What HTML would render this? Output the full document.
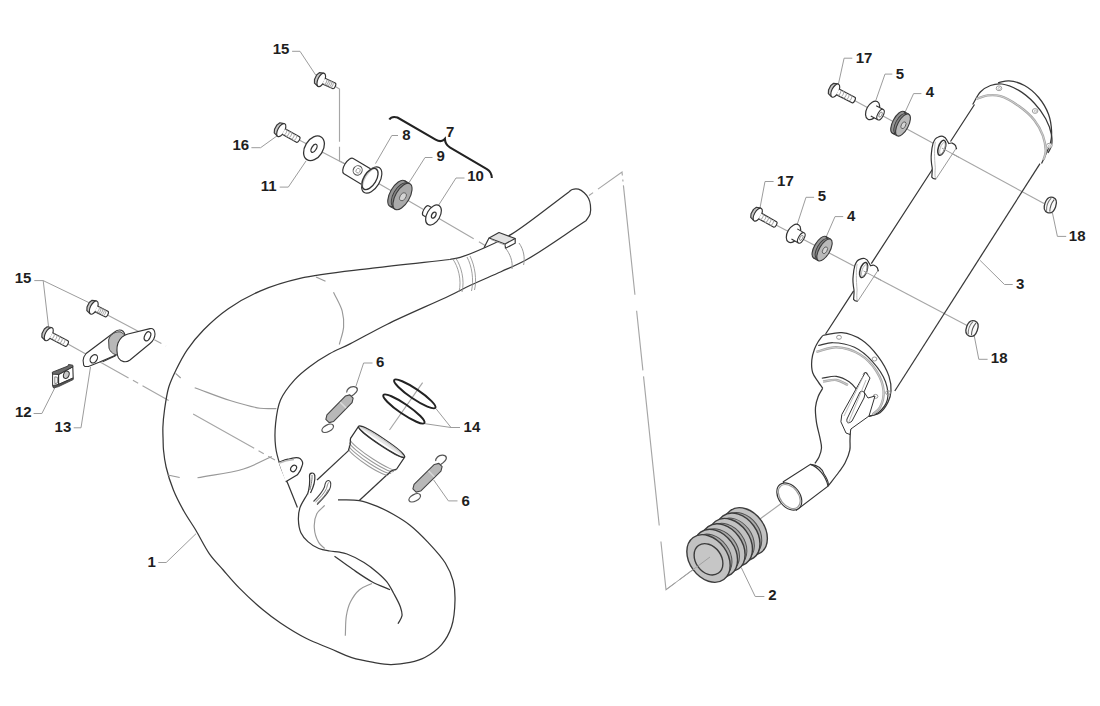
<!DOCTYPE html><html><head><meta charset="utf-8"><style>
*{margin:0;padding:0}
html,body{width:1100px;height:706px;overflow:hidden;background:#fff}
svg{display:block}
text{font-family:"Liberation Sans",sans-serif;font-weight:bold;font-size:15px;fill:#1e1e1e}
.pl{fill:none;stroke:#383838;stroke-width:1.25}
.ln{fill:none;stroke:#383838;stroke-width:1.15}
.ld{fill:none;stroke:#9c9c9c;stroke-width:1}
.cl{fill:none;stroke:#a6a6a6;stroke-width:1.15}
.pt{fill:#fff;stroke:#333;stroke-width:1.1}
.th{fill:none;stroke:#aaa;stroke-width:0.8}
.gl{fill:none;stroke:#999;stroke-width:1.15}
.gl2{fill:none;stroke:#a5a5a5;stroke-width:2.4}
.gl2b{fill:none;stroke:#e0e0e0;stroke-width:0.7}
.cl2{fill:none;stroke:#a0a0a0;stroke-width:1}
.gr{stroke:#3a3a3a;stroke-width:1.1}
</style></head><body><svg width="1100" height="706" viewBox="0 0 1100 706">
<rect width="1100" height="706" fill="#fff"/>
<polyline class="cl" points="335.0,86.3 339.5,89.0 339.5,161.0 345.5,164.0" style="stroke-dasharray:58 5"/>
<polyline class="cl" points="299.7,140.3 345.0,164.0 433.0,215.0 486.0,246.0" style="stroke-dasharray:200 6 40 6"/>
<polyline class="cl" points="107.5,315.0 166.0,346.0" style="stroke-dasharray:48 5 8 5"/>
<polyline class="cl" points="67.5,343.7 275.0,460.0" style="stroke-dasharray:70 5 6 5 30 28"/>
<polyline class="cl" points="589.0,195.5 622.0,172.0 666.0,589.7 710.0,557.0" style="stroke-dasharray:5 6 33 4 2 4 110 16 60 6 150 16 60 5 400"/>
<polyline class="cl" points="760.0,519.0 788.7,498.0" style="stroke-dasharray:none"/>
<polyline class="cl" points="389.5,430.0 422.6,382.7" style="stroke-dasharray:none"/>
<polyline class="cl" points="854.5,100.5 1044.0,203.6" style="stroke-dasharray:none"/>
<polyline class="cl" points="776.0,225.0 971.8,328.0" style="stroke-dasharray:none"/>
<polyline class="ld" points="292.1,51.3 300.0,51.3 315.7,75.0"/>
<polyline class="ld" points="251.4,147.7 260.6,147.7 277.0,135.9"/>
<polyline class="ld" points="279.7,187.1 288.3,187.1 306.0,161.0"/>
<polyline class="ld" points="398.0,135.5 391.8,135.5 375.5,163.6"/>
<polyline class="ld" points="432.5,157.5 425.0,157.5 407.5,185.0"/>
<polyline class="ld" points="464.5,178.0 456.0,178.0 438.7,205.0"/>
<polyline class="ld" points="34.3,280.6 43.2,280.6 88.7,302.5"/>
<polyline class="ld" points="43.2,280.6 48.7,328.0"/>
<polyline class="ld" points="33.6,413.5 41.9,413.5 55.0,387.5"/>
<polyline class="ld" points="73.7,427.8 81.0,427.8 90.5,367.0"/>
<polyline class="ld" points="158.3,562.5 166.2,562.5 196.0,533.7"/>
<polyline class="ld" points="372.5,363.0 363.6,363.0 356.0,386.0"/>
<polyline class="ld" points="457.5,500.9 448.4,500.9 433.7,480.0"/>
<polyline class="ld" points="460.0,427.5 451.0,427.5 436.0,408.7"/>
<polyline class="ld" points="451.0,427.5 425.0,423.7"/>
<polyline class="ld" points="852.3,58.2 844.1,58.2 838.0,86.0"/>
<polyline class="ld" points="892.3,74.1 885.0,74.1 875.8,100.5"/>
<polyline class="ld" points="921.4,93.6 913.6,93.6 904.0,114.5"/>
<polyline class="ld" points="1066.2,236.4 1057.4,236.4 1052.4,212.7"/>
<polyline class="ld" points="773.6,181.5 765.0,181.5 759.6,210.0"/>
<polyline class="ld" points="814.1,197.3 806.0,197.3 797.0,225.0"/>
<polyline class="ld" points="843.2,216.6 835.0,216.6 825.7,238.0"/>
<polyline class="ld" points="1012.7,284.5 1004.5,284.5 980.1,260.4"/>
<polyline class="ld" points="987.6,359.3 978.8,359.3 974.2,335.6"/>
<polyline class="ld" points="764.4,596.5 755.2,596.5 741.4,567.8"/>
<path class="pl" d="M449.80,259.50 C424.10,262.40 398.00,265.00 372.70,268.20 C348.09,271.31 320.48,273.75 300.00,278.40 C284.52,281.92 272.31,285.79 260.00,291.10 C248.55,296.04 237.91,302.01 228.30,308.70 C219.17,315.06 210.64,322.71 203.50,330.00 C197.18,336.45 191.86,342.95 187.20,349.80 C182.77,356.30 179.18,363.48 176.00,370.00 C173.16,375.83 170.67,380.80 168.80,387.00 C166.69,393.98 165.50,402.89 164.50,410.00 C163.65,416.07 163.11,421.71 162.90,427.00 C162.72,431.62 162.99,435.95 163.10,440.00 C163.20,443.55 163.14,446.24 163.50,450.00 C163.97,454.93 164.69,460.96 166.10,467.00 C167.77,474.15 170.42,482.62 173.40,490.00 C176.34,497.28 180.04,504.27 183.80,511.00 C187.48,517.59 191.66,523.27 195.70,530.00 C200.17,537.45 204.48,546.82 209.40,553.80 C213.73,559.94 218.38,564.48 223.20,570.00 C228.35,575.90 233.32,581.93 239.40,588.10 C246.42,595.22 255.75,603.80 263.20,610.00 C269.29,615.07 274.05,618.66 280.50,623.00 C288.06,628.09 297.48,633.96 306.00,638.30 C313.98,642.37 322.19,645.21 330.00,648.50 C337.44,651.63 344.43,655.27 351.80,657.60 C358.97,659.86 366.78,661.23 373.60,662.40 C379.54,663.42 384.58,664.45 390.40,664.50 C396.68,664.56 403.99,663.70 410.00,662.40 C415.35,661.24 419.93,660.08 424.80,657.50 C430.48,654.49 437.13,649.78 441.60,644.60 C445.98,639.52 449.26,633.58 451.50,626.80 C454.08,618.99 454.86,608.15 455.00,600.00 C455.12,593.19 454.77,587.29 453.20,581.20 C451.59,574.95 448.98,568.98 445.30,563.00 C441.04,556.08 434.26,548.97 428.30,542.60 C422.48,536.39 416.16,530.07 410.00,525.20 C404.58,520.91 399.15,517.68 393.60,514.50 C388.25,511.44 382.96,508.70 377.30,506.40 C371.53,504.05 365.63,501.72 359.30,500.60 C352.58,499.41 345.10,500.07 338.00,499.80" />
<path class="pl" d="M585.90,220.80 C566.07,233.80 542.33,250.91 526.40,259.80 C516.40,265.39 509.88,267.65 501.00,271.70 C491.30,276.13 479.53,280.99 470.40,285.30 C462.87,288.85 458.71,291.33 450.00,295.50 C434.86,302.75 405.39,315.29 387.30,324.20 C373.15,331.17 360.63,338.53 350.00,343.90 C342.19,347.85 336.17,350.05 329.50,353.80 C322.69,357.63 315.60,362.18 309.60,366.70 C304.14,370.82 299.40,374.48 294.80,379.60 C289.61,385.36 283.70,392.61 280.50,400.00 C277.36,407.24 276.41,415.57 275.60,423.40 C274.80,431.13 274.72,439.41 275.60,446.70 C276.40,453.33 278.17,459.24 280.20,465.40 C282.28,471.71 285.30,477.51 288.00,484.10 C291.01,491.45 294.27,499.70 297.40,507.50" />
<path class="pl" d="M449.80,259.50 C453.27,258.77 456.09,258.53 460.20,257.30 C466.58,255.39 475.89,251.60 484.00,248.00 C492.85,244.07 500.77,240.79 511.20,234.40 C527.21,224.60 549.67,206.07 568.90,191.90" />
<path class="pl" d="M568.90,191.90 C570.03,191.10 570.92,189.98 572.30,189.50 C573.99,188.92 576.55,188.70 578.50,189.20 C580.52,189.72 582.54,191.20 584.20,192.70 C585.93,194.27 587.56,196.40 588.60,198.50 C589.60,200.52 590.12,202.63 590.40,205.00 C590.73,207.73 590.91,211.31 590.10,214.00 C589.33,216.54 587.30,218.53 585.90,220.80" />
<path class="pl" d="M307.40,494.00 C304.90,498.63 301.37,503.31 299.90,507.90 C298.62,511.90 298.27,515.76 298.40,519.80 C298.54,524.02 299.20,528.97 300.90,532.70 C302.48,536.16 305.05,539.03 307.90,541.60 C310.94,544.35 315.03,546.93 318.80,548.50 C322.31,549.96 326.14,550.38 329.70,551.00 C333.06,551.59 336.55,551.65 339.60,552.20 C342.26,552.68 344.10,552.94 347.00,554.00 C351.58,555.68 358.78,559.28 364.00,562.50 C368.93,565.55 373.62,569.27 377.60,572.70 C381.05,575.68 384.06,578.35 386.70,581.70 C389.38,585.10 391.31,589.01 393.50,593.00 C395.86,597.30 398.90,602.52 400.30,606.70 C401.38,609.93 402.40,612.85 402.00,615.70 C401.61,618.51 399.33,621.03 398.00,623.70" />
<path class="pl" d="M334.50,556.20 C340.57,560.57 346.50,565.07 352.70,569.30 C358.96,573.57 365.46,578.22 371.90,581.70 C377.90,584.94 383.97,587.03 390.00,589.70" />
<path class="gl" d="M324.70,505.40 C322.07,508.20 318.54,510.34 316.80,513.80 C314.87,517.63 314.03,523.02 314.30,527.70 C314.58,532.61 316.62,538.95 318.80,542.60 C320.40,545.27 322.73,546.53 324.70,548.50" />
<path class="gl" d="M372.00,583.40 C367.83,585.50 363.05,586.70 359.50,589.70 C355.78,592.84 352.59,597.67 350.40,602.10 C348.29,606.36 347.27,610.67 346.40,615.70 C345.37,621.69 345.67,629.10 345.30,635.80" />
<polyline class="gl" points="316.0,276.9 325.5,281.3"/>
<path class="gl" d="M333.50,292.20 C336.40,298.50 340.56,304.92 342.20,311.10 C343.64,316.53 344.02,321.69 343.60,327.10 C343.16,332.81 340.73,338.70 339.30,344.50" />
<path class="gl" d="M194.70,387.70 C206.47,391.97 218.63,396.99 230.00,400.50 C240.33,403.69 251.44,407.01 260.00,408.20 C266.23,409.06 270.93,408.47 276.40,408.60" />
<polyline class="gl" points="175.6,373.4 180.7,378.0"/>
<polyline class="gl" points="167.8,475.0 179.7,477.5"/>
<path class="gl" d="M197.50,477.80 C212.83,474.87 230.22,473.14 243.50,469.00 C254.29,465.63 262.37,460.67 271.80,456.50" />
<path class="pl" d="M348.5,450.6 L317,480"/>
<path class="pl" d="M389.5,472.5 L359.3,500.5"/>
<g transform="translate(381.6,441.7) rotate(33.7)"><path d="M-27.7,0 L-27.7,14.4 L-24.5,19.8 L-22.6,26 L23,24.5 L24.1,19.2 L27.7,14.4 L27.7,0 Z" style="fill:#fff;stroke:none"/><path d="M-27.4,15.8 A27.4,3.8 0 0 0 27.4,15.0" style="fill:none;stroke:#999;stroke-width:1"/><path d="M-26.2,18.6 A26.2,3.8 0 0 0 26.2,17.8" style="fill:none;stroke:#999;stroke-width:1"/><path d="M-24.9,21.4 A24.9,3.8 0 0 0 24.9,20.6" style="fill:none;stroke:#999;stroke-width:1"/><path d="M-23.6,24.2 A23.6,3.8 0 0 0 23.6,23.4" style="fill:none;stroke:#999;stroke-width:1"/><path d="M-27.7,0 L-27.7,14.4 C-26.8,16.5 -25.3,18.3 -24.5,20 L-22.6,26" style="fill:none;stroke:#333;stroke-width:1.2"/><path d="M27.7,0 L27.7,14.4 L24.1,19.2 L23,24.5" style="fill:none;stroke:#333;stroke-width:1.2"/><ellipse cx="0" cy="0" rx="27.7" ry="3.6" style="fill:#e6e6e6;stroke:#333;stroke-width:1.3"/><path d="M-26.5,0.6 A26.5,2.6 0 0 0 26.5,0.6" style="fill:#fff;stroke:#333;stroke-width:1.1"/><path d="M-24,-0.6 A24,2 0 0 1 24,-0.6" style="fill:none;stroke:#c4c4c4;stroke-width:1"/></g>
<path class="pt" d="M278.7,462.3 C282,461 285,459.5 288,459.2 C292,458 297,456.5 300,458.5 C303,461 303,464 302,466 C301,470 299,473 297.4,474.8 L285.7,481.8" style="stroke-width:1.2"/>
<path d="M279.5,463 C284,461 289,460 294,459.5" style="fill:none;stroke:#bbb;stroke-width:1.5"/>
<ellipse class="pt" cx="293.6" cy="468.4" rx="2.6" ry="3.5" transform="rotate(35 293.6 468.4)" style="stroke-width:1.2"/>
<path d="M307.5,494.5 C309.5,488 310,481 309.5,476 C309.3,472.5 314,471.8 314.8,475.5 C315.3,480 313.5,487 310.5,493" style="fill:#fff;stroke:#333;stroke-width:1.2"/>
<path class="th" d="M309.8,490 C311.5,484 312.3,478 312,475" style="stroke:#666;stroke-width:0.9"/>
<path d="M313.5,501.5 C318,497 322.5,492 324.5,487 C325,483.5 326,480.3 328.5,480.5 C331.5,481 331.2,486 329.5,489.5 C326.5,495.5 321,500.5 317,504.5" style="fill:#fff;stroke:#444;stroke-width:1.1"/>
<path class="th" d="M315.5,502 C320,498 324.5,493 326.5,488.5 C327.5,485 328,482.5 329,482.5 M317,503.5 C321.5,499.5 326,494.5 328.3,489.5" style="stroke:#777;stroke-width:0.9"/>
<path d="M505,244 L515.2,238.5 L515.2,243.2 L505.5,248.3 Z" style="fill:#fff;stroke:none"/>
<path d="M489,238 L499,232.5 L515.2,238.5 L505,244 Z" style="fill:#e2e2e2;stroke:#383838;stroke-width:1.2;stroke-linejoin:round"/>
<path d="M515.2,238.5 L515.2,243.2 L505.5,248.3 L505,244 M489,238 L484,247.8" style="fill:none;stroke:#383838;stroke-width:1.2"/>
<path class="th" d="M491,239.5 L506,245.5" style="stroke:#999"/>
<path class="th" d="M505.5,248 C510,254 513,261 512,269 M519,243 C524,250 525,258 523.6,265" style="stroke:#999;stroke-width:1"/>
<path class="th" d="M452.7,259 C458,266 462,280 459,292 M456,258.5 C461,266 465,280 462,292 M470,256 C475,266 477,280 474.5,290 M467,257 C472,266 474,280 471.5,291" style="stroke:#888"/>
<path class="pl" d="M974.5,104.5 L950.5,141.5 M933.6,167.5 L871.3,263.6 M853.6,290.8 L825.6,334"/>
<path class="pl" d="M1040.0,163.6 L894.8,391"/>
<path class="pl" d="M998.00,82.80 C1001.63,82.13 1004.97,80.58 1008.90,80.80 C1013.66,81.07 1019.67,82.88 1024.50,85.50 C1029.66,88.30 1034.72,92.76 1038.70,97.50 C1042.80,102.38 1046.45,108.64 1048.60,114.50 C1050.61,119.99 1051.40,126.37 1051.60,131.50 C1051.77,135.69 1051.34,139.53 1050.50,143.00 C1049.76,146.05 1048.50,148.28 1047.20,151.30 C1045.60,155.02 1043.40,159.50 1041.50,163.60" />
<path class="pl" d="M972.70,104.50 C975.33,100.27 977.39,95.05 980.60,91.80 C983.45,88.93 986.94,86.80 990.50,85.50 C994.01,84.22 997.71,83.53 1001.80,84.00 C1006.96,84.59 1013.49,87.33 1018.80,90.40 C1024.40,93.63 1029.88,98.41 1034.40,103.20 C1038.81,107.87 1042.83,113.31 1045.70,118.70 C1048.37,123.71 1050.52,129.44 1051.40,134.30 C1052.13,138.33 1052.24,142.40 1051.50,145.70 C1050.88,148.48 1049.17,150.57 1048.00,153.00" />
<path class="gl2" d="M976.30,98.90 C980.10,97.73 983.75,95.88 987.70,95.40 C991.78,94.90 995.92,94.84 1000.40,96.10 C1006.14,97.71 1013.14,102.00 1018.80,106.00 C1024.48,110.02 1030.30,114.99 1034.40,120.20 C1038.15,124.97 1041.02,130.37 1042.90,135.70 C1044.68,140.75 1045.84,146.90 1045.70,151.30 C1045.59,154.57 1044.30,156.97 1043.60,159.80" />
<path class="gl2b" d="M976.30,98.90 C980.10,97.73 983.75,95.88 987.70,95.40 C991.78,94.90 995.92,94.84 1000.40,96.10 C1006.14,97.71 1013.14,102.00 1018.80,106.00 C1024.48,110.02 1030.30,114.99 1034.40,120.20 C1038.15,124.97 1041.02,130.37 1042.90,135.70 C1044.68,140.75 1045.84,146.90 1045.70,151.30 C1045.59,154.57 1044.30,156.97 1043.60,159.80"/>
<ellipse cx="999.0" cy="88.3" rx="2.8" ry="2.4" style="fill:#fff;stroke:#a0a0a0;stroke-width:1"/><ellipse cx="999.3" cy="88.5" rx="1.2" ry="1" style="fill:none;stroke:#b0b0b0;stroke-width:0.8"/>
<ellipse cx="1035.1" cy="111.0" rx="2.8" ry="2.4" style="fill:#fff;stroke:#a0a0a0;stroke-width:1"/><ellipse cx="1035.4" cy="111.2" rx="1.2" ry="1" style="fill:none;stroke:#b0b0b0;stroke-width:0.8"/>
<ellipse cx="1049.3" cy="145.7" rx="2.8" ry="2.4" style="fill:#fff;stroke:#a0a0a0;stroke-width:1"/><ellipse cx="1049.6" cy="145.9" rx="1.2" ry="1" style="fill:none;stroke:#b0b0b0;stroke-width:0.8"/>
<path class="pl" d="M822.70,335.50 C829.07,334.57 835.44,332.05 841.80,332.70 C848.48,333.38 855.86,336.18 861.80,340.00 C867.98,343.97 873.46,350.32 878.00,356.40 C882.52,362.45 886.91,370.07 889.00,376.40 C890.68,381.48 891.26,386.52 891.00,391.00 C890.77,394.90 889.86,398.35 888.20,401.80 C886.36,405.62 883.38,410.26 880.00,412.70 C876.88,414.95 872.67,415.17 869.00,416.40" />
<path class="pl" d="M822.70,335.50 C821.13,337.67 819.37,339.73 818.00,342.00 C816.64,344.24 815.48,346.34 814.50,349.00 C813.33,352.20 812.13,356.18 811.80,360.00 C811.45,364.06 811.51,368.94 812.70,372.70 C813.79,376.13 816.41,379.06 818.20,381.80 C819.73,384.15 821.20,386.07 822.70,388.20" />
<path class="ln" d="M818.20,345.50 C823.03,344.57 827.38,342.65 832.70,342.70 C839.23,342.76 847.89,344.19 854.50,347.30 C861.25,350.48 867.55,356.09 872.70,361.80 C877.90,367.57 883.14,375.00 885.50,381.80 C887.57,387.77 888.72,394.71 887.30,400.00 C885.99,404.89 881.69,409.96 878.20,412.70 C875.42,414.88 872.07,415.17 869.00,416.40" />
<path class="gl2" d="M816.40,351.80 C823.07,350.30 829.49,347.04 836.40,347.30 C843.98,347.58 853.27,350.44 860.00,354.50 C866.54,358.44 872.44,364.75 876.40,371.00 C880.18,376.98 883.19,384.62 883.60,391.00 C883.96,396.66 882.27,403.20 880.00,407.30 C878.22,410.52 875.13,412.10 872.70,414.50" />
<path class="gl2b" d="M816.40,351.80 C823.07,350.30 829.49,347.04 836.40,347.30 C843.98,347.58 853.27,350.44 860.00,354.50 C866.54,358.44 872.44,364.75 876.40,371.00 C880.18,376.98 883.19,384.62 883.60,391.00 C883.96,396.66 882.27,403.20 880.00,407.30 C878.22,410.52 875.13,412.10 872.70,414.50"/>
<ellipse class="th" cx="839.0" cy="337.3" rx="2.4" ry="2" style="stroke:#999;stroke-width:1"/>
<ellipse class="th" cx="874.5" cy="359.0" rx="2.4" ry="2" style="stroke:#999;stroke-width:1"/>
<ellipse class="th" cx="888.0" cy="392.7" rx="2.4" ry="2" style="stroke:#999;stroke-width:1"/>
<ellipse class="th" cx="875.5" cy="396.4" rx="2.4" ry="2" style="stroke:#999;stroke-width:1"/>
<ellipse class="th" cx="865.5" cy="374.5" rx="2.4" ry="2" style="stroke:#999;stroke-width:1"/>
<path class="ln" d="M821.80,378.20 C826.67,377.60 831.79,375.75 836.40,376.40 C840.87,377.03 845.43,379.31 849.10,381.80 C852.66,384.22 855.17,387.93 858.20,391.00" />
<path class="gl2" d="M823.00,381.50 C827.47,381.00 832.17,379.37 836.40,380.00 C840.49,380.61 844.13,383.33 848.00,385.00" />
<path class="gl2b" d="M823.00,381.50 C827.47,381.00 832.17,379.37 836.40,380.00 C840.49,380.61 844.13,383.33 848.00,385.00"/>
<path class="pl" d="M822.70,388.20 C821.20,390.93 819.38,393.39 818.20,396.40 C816.91,399.70 815.86,403.38 815.50,407.30 C815.10,411.76 815.71,416.85 816.40,421.80 C817.15,427.13 819.11,433.42 820.00,438.20 C820.68,441.87 821.69,444.82 821.50,448.00 C821.32,451.08 820.20,454.35 819.00,457.00 C817.93,459.38 816.27,461.20 814.90,463.30" />
<path class="pl" d="M850.50,428.00 C850.33,432.00 850.12,436.16 850.00,440.00 C849.89,443.54 850.48,446.67 849.80,450.20 C849.02,454.29 846.96,459.21 845.00,463.00 C843.25,466.38 841.28,468.70 838.90,472.00 C835.84,476.24 831.63,481.47 828.00,486.20" />
<path class="pt" d="M865.5,372 L870,378 L864,392 L868,398 L875,396 L869,416 L850.9,429 L850,434.5 L846,433 L840.9,421.8 L841.8,414.5 Z" style="stroke-width:1"/>
<path class="pt" d="M860,392 C863,390 866,392 864,398 L852,421 C849,424 846,423 847,419 Z" style="stroke-width:1"/>
<path class="th" d="M863,377 L844,416 M866,380 L848,424"/>
<path class="pt" d="M783.3,481.8 L810.5,464.4 C816,465 822,468 824,474 C828,480 829,484 828,486.2 L796.4,510.2 Z"/>
<path class="ln" d="M810.5,464.4 C818,467 826,476 828,486.2"/>
<ellipse class="pt" cx="789.3" cy="496.5" rx="10.5" ry="15.2" transform="rotate(-38 789.3 496.5)"/>
<ellipse class="gl" cx="789.3" cy="496.5" rx="9" ry="13.5" transform="rotate(-38 789.3 496.5)"/>
<g transform="translate(941.8,147.8) rotate(0.0)"><path d="M-10,29.3 C-9.8,26 -9.4,23 -9.6,20 C-10.5,15 -11,10 -10.4,5.5 C-10,1 -9.5,-2 -8.7,-4.7 C-7.5,-8 -6,-10 -4,-10.6 C-2,-11.5 -0.5,-11.8 1.1,-11.5 C3,-11 4.5,-9 5.3,-7.2 L7,-4.3 C8.5,-4.8 9.5,-5 10.4,-4.7 C12,-4 13.2,-3 13.8,-2.1 L14.7,0.8 L13.8,1.3 L-5.7,31 C-7.5,31.5 -9,30.8 -10,29.3 Z" style="fill:#fff;stroke:none"/><path d="M13.8,1.3 L14.7,0.8 L13.8,-2.1 C13.2,-3 12,-4 10.4,-4.7 C9.5,-5 8.5,-4.8 7,-4.3 L5.3,-7.2 C4.5,-9 3,-11 1.1,-11.5 C-0.5,-11.8 -2,-11.5 -4,-10.6 C-6,-10 -7.5,-8 -8.7,-4.7 C-9.5,-2 -10,1 -10.4,5.5 C-11,10 -10.5,15 -9.6,20 C-9.4,23 -9.8,26 -10,29.3 C-9,30.8 -7.5,31.5 -5.7,31" style="fill:none;stroke:#333;stroke-width:1.2"/><path d="M13.8,1.3 L-5.7,31" style="fill:none;stroke:#9a9a9a;stroke-width:1"/><path d="M-6.5,-6 C-7.5,0 -7.5,10 -6.5,20 C-6.8,24 -7,27 -6.5,30" style="fill:none;stroke:#b0b0b0;stroke-width:0.9"/><ellipse cx="0" cy="0" rx="3.4" ry="7.8" transform="rotate(18)" style="fill:#fff;stroke:#333;stroke-width:1.5"/><ellipse cx="0.8" cy="0.3" rx="2.2" ry="6" transform="rotate(18)" style="fill:none;stroke:#aaa;stroke-width:0.8"/></g>
<g transform="translate(863.6,270.0) rotate(0.0)"><path d="M-10,29.3 C-9.8,26 -9.4,23 -9.6,20 C-10.5,15 -11,10 -10.4,5.5 C-10,1 -9.5,-2 -8.7,-4.7 C-7.5,-8 -6,-10 -4,-10.6 C-2,-11.5 -0.5,-11.8 1.1,-11.5 C3,-11 4.5,-9 5.3,-7.2 L7,-4.3 C8.5,-4.8 9.5,-5 10.4,-4.7 C12,-4 13.2,-3 13.8,-2.1 L14.7,0.8 L13.8,1.3 L-5.7,31 C-7.5,31.5 -9,30.8 -10,29.3 Z" style="fill:#fff;stroke:none"/><path d="M13.8,1.3 L14.7,0.8 L13.8,-2.1 C13.2,-3 12,-4 10.4,-4.7 C9.5,-5 8.5,-4.8 7,-4.3 L5.3,-7.2 C4.5,-9 3,-11 1.1,-11.5 C-0.5,-11.8 -2,-11.5 -4,-10.6 C-6,-10 -7.5,-8 -8.7,-4.7 C-9.5,-2 -10,1 -10.4,5.5 C-11,10 -10.5,15 -9.6,20 C-9.4,23 -9.8,26 -10,29.3 C-9,30.8 -7.5,31.5 -5.7,31" style="fill:none;stroke:#333;stroke-width:1.2"/><path d="M13.8,1.3 L-5.7,31" style="fill:none;stroke:#9a9a9a;stroke-width:1"/><path d="M-6.5,-6 C-7.5,0 -7.5,10 -6.5,20 C-6.8,24 -7,27 -6.5,30" style="fill:none;stroke:#b0b0b0;stroke-width:0.9"/><ellipse cx="0" cy="0" rx="3.4" ry="7.8" transform="rotate(18)" style="fill:#fff;stroke:#333;stroke-width:1.5"/><ellipse cx="0.8" cy="0.3" rx="2.2" ry="6" transform="rotate(18)" style="fill:none;stroke:#aaa;stroke-width:0.8"/></g>
<path d="M941.8,148 L959,157.4" style="fill:none;stroke:#a0a0a0;stroke-width:1"/>
<path d="M863.6,271 L881,280.2" style="fill:none;stroke:#a0a0a0;stroke-width:1"/>
<ellipse cx="745.7" cy="531.5" rx="19" ry="26" transform="rotate(-36.0 745.7 531.5)" style="fill:#c2c2c2;stroke:#3c3c3c;stroke-width:1.4"/><ellipse cx="742.0" cy="534.2" rx="17.5" ry="23.5" transform="rotate(-36.0 742.0 534.2)" style="fill:#a9a9a9;stroke:#505050;stroke-width:1"/><ellipse cx="738.3" cy="536.9" rx="19" ry="26" transform="rotate(-36.0 738.3 536.9)" style="fill:#c2c2c2;stroke:#3c3c3c;stroke-width:1.4"/><ellipse cx="734.6" cy="539.6" rx="17.5" ry="23.5" transform="rotate(-36.0 734.6 539.6)" style="fill:#a9a9a9;stroke:#505050;stroke-width:1"/><ellipse cx="730.8" cy="542.3" rx="19" ry="26" transform="rotate(-36.0 730.8 542.3)" style="fill:#c2c2c2;stroke:#3c3c3c;stroke-width:1.4"/><ellipse cx="727.1" cy="545.0" rx="17.5" ry="23.5" transform="rotate(-36.0 727.1 545.0)" style="fill:#a9a9a9;stroke:#505050;stroke-width:1"/><ellipse cx="723.4" cy="547.7" rx="19" ry="26" transform="rotate(-36.0 723.4 547.7)" style="fill:#c2c2c2;stroke:#3c3c3c;stroke-width:1.4"/><ellipse cx="719.7" cy="550.4" rx="17.5" ry="23.5" transform="rotate(-36.0 719.7 550.4)" style="fill:#a9a9a9;stroke:#505050;stroke-width:1"/><ellipse cx="715.9" cy="553.1" rx="19" ry="26" transform="rotate(-36.0 715.9 553.1)" style="fill:#c2c2c2;stroke:#3c3c3c;stroke-width:1.4"/><ellipse cx="712.2" cy="555.8" rx="17.5" ry="23.5" transform="rotate(-36.0 712.2 555.8)" style="fill:#a9a9a9;stroke:#505050;stroke-width:1"/><ellipse cx="708.5" cy="558.5" rx="19" ry="26" transform="rotate(-36.0 708.5 558.5)" style="fill:#c2c2c2;stroke:#3c3c3c;stroke-width:1.4"/><ellipse cx="708.5" cy="559.3" rx="12.8" ry="17" transform="rotate(-36.0 708.5 559.3)" style="fill:#c6c6c6;stroke:#3c3c3c;stroke-width:1.4"/>
<polyline class="cl2" points="666.0,589.7 710.0,557.0"/>
<g transform="translate(370,179) rotate(31)"><path class="pt" d="M-25,-9 L-1,-9 L-1,9 L-25,9 A4.2,9 0 0 1 -25,-9 Z" style="stroke-width:1.2"/><ellipse cx="-15" cy="-1" rx="4.4" ry="4.8" style="fill:#fff;stroke:#555;stroke-width:1.1"/><ellipse cx="-14.5" cy="-1" rx="2" ry="2.4" style="fill:none;stroke:#888;stroke-width:0.8"/><ellipse cx="2" cy="0" rx="8" ry="14.5" style="fill:#fff;stroke:#333;stroke-width:1.2"/><path d="M-2.5,-11.5 A6,11.8 0 0 0 -2.5,11.5 L2,13.8 A7.5,14 0 0 1 2,-13.8 Z" style="fill:#c8c8c8;stroke:none"/><ellipse cx="0" cy="0" rx="6.2" ry="11.8" style="fill:none;stroke:#333;stroke-width:1.3"/></g>
<path class="pt" d="M83.1,360.5 L83.7,365.3 L84.9,366.5 L88.5,366.5 L99.1,362.3 L116,355 L125,335 C124,331 122,329.8 119,330 C117,330 115.6,331 114,332.5 L86.1,353.5 C84,356 83,358 83.1,360.5 Z"/>
<ellipse class="pt" cx="93.8" cy="358.8" rx="3.2" ry="4.5" transform="rotate(35 93.8 358.8)" style="stroke-width:1.2"/>
<path d="M108.6,340 C110,334 116,331 121,332 L126.3,336 L118,355 C114,355 110,352 109,348 Z" style="fill:#b8b8b8;stroke:#444;stroke-width:1"/>
<path class="pt" d="M118,343 C120,338 124,335 128,334 L150,328.6 C153,328 155,330 155,334 C155,337 153,341 150,343.5 L130,360 C126,363 121,362 118.5,358 C116.5,354 116.5,347 118,343 Z"/>
<ellipse class="pt" cx="147.5" cy="336.3" rx="2.8" ry="4.8" transform="rotate(25 147.5 336.3)" style="stroke-width:1.2"/>
<path class="ln" d="M102.6,361.7 L115.6,355.8"/>
<path d="M52.6,373 L58.6,374.4 L58.6,384.4 L53.5,387 L52.6,385 Z" style="fill:#fff;stroke:#333;stroke-width:1"/>
<path d="M54.8,376.8 L57.4,377.3 L57.4,383 L54.8,383.6 Z" style="fill:#fff;stroke:#666;stroke-width:0.8"/>
<path d="M58.6,374.4 L72.8,366.8 L73.2,378 L58.6,384.4 Z" style="fill:#fff;stroke:#333;stroke-width:1.1"/>
<path d="M52.3,372.2 L68,366 L68.5,364.5 L72.8,365.2 L72.8,366.8 L58.6,374.4 L52.5,374.2 Z" style="fill:#6a6a6a;stroke:#333;stroke-width:0.9"/>
<path d="M52.6,385.5 L58.6,384.4 L73.2,378 L73.2,379.6 L58.6,386.6 L53.5,388 Z" style="fill:#555;stroke:#333;stroke-width:0.8"/>
<ellipse cx="66.3" cy="374.8" rx="2.7" ry="3.8" transform="rotate(20 66.3 374.8)" style="fill:#c8c8c8;stroke:#333;stroke-width:1"/>
<g transform="translate(414.5,490.5) rotate(-44.4)"><path d="M0,-2.3 L4,-4.7 L32.4,-4.7 L36.4,-2.3 L36.4,2.3 L32.4,4.7 L4,4.7 L0,2.3 Z" style="fill:#b8b8b8;stroke:#444;stroke-width:1.1;stroke-linejoin:round"/><path d="M23.7,-4 L23.7,4" style="stroke:#d8d8d8;stroke-width:1.5"/></g><path d="M440.0,465.0 C443.0,463.0 447.0,460.0 446.3,457.5 C445.5,454.5 440.0,454.5 437.5,457.0 C436.0,458.5 435.5,460.0 435.7,461.0" style="fill:none;stroke:#555;stroke-width:1.3"/><ellipse cx="414.7" cy="497.8" rx="6.3" ry="3.3" transform="rotate(-28 414.7 497.8)" style="fill:#fff;stroke:#555;stroke-width:1.3"/>
<g transform="translate(327.5,421.0) rotate(-45.6)"><path d="M0,-2.3 L4,-4.7 L30.3,-4.7 L34.3,-2.3 L34.3,2.3 L30.3,4.7 L4,4.7 L0,2.3 Z" style="fill:#b8b8b8;stroke:#444;stroke-width:1.1;stroke-linejoin:round"/><path d="M22.3,-4 L22.3,4" style="stroke:#d8d8d8;stroke-width:1.5"/></g><path d="M351.0,396.5 C354.0,394.5 358.0,391.5 357.3,389.0 C356.5,386.0 351.0,386.0 348.5,388.5 C347.0,390.0 346.5,391.5 346.7,392.5" style="fill:none;stroke:#555;stroke-width:1.3"/><ellipse cx="327.7" cy="428.3" rx="6.3" ry="3.3" transform="rotate(-28 327.7 428.3)" style="fill:#fff;stroke:#555;stroke-width:1.3"/>
<ellipse cx="414.8" cy="393.9" rx="24.8" ry="4.9" transform="rotate(34 414.8 393.9)" style="fill:none;stroke:#222;stroke-width:2"/>
<ellipse cx="403.9" cy="409" rx="24.8" ry="4.9" transform="rotate(34.3 403.9 409)" style="fill:none;stroke:#222;stroke-width:2"/>
<path d="M389.3,119.5 C391,117 393.5,116.3 397.5,117.5 L435.6,139.6 C438.5,141.2 441.5,141.5 443.5,140.2 L444.9,138.8 C445,141.5 446.5,145.5 449.8,147.3 L486.9,169.1 C490,171 491.8,174 491.8,178" style="fill:none;stroke:#222;stroke-width:2.1"/>
<g transform="translate(321.0,79.8) rotate(24.9)"><path d="M-0.5,-7.1 L-4.5,-5.8 L-6,-2.5 L-6,2.5 L-4.5,5.8 L-0.5,7.1 Z" style="fill:#c8c8c8;stroke:#3a3a3a;stroke-width:1.2;stroke-linejoin:round"/><ellipse cx="0.3" cy="0" rx="3.4" ry="7.2" style="fill:#fff;stroke:#333;stroke-width:1.15"/><path class="pt" d="M3,-3.1 L14.2,-3.1 A1.5,3.1 0 0 1 14.2,3.1 L3,3.1" style="stroke-width:1.15"/><path class="th" d="M4.5,-2.8 A1.4,2.8 0 0 1 4.5,2.8" style="stroke:#a8a8a8;stroke-width:0.9"/><path class="th" d="M6.3,-2.8 A1.4,2.8 0 0 1 6.3,2.8" style="stroke:#a8a8a8;stroke-width:0.9"/><path class="th" d="M8.1,-2.8 A1.4,2.8 0 0 1 8.1,2.8" style="stroke:#a8a8a8;stroke-width:0.9"/><path class="th" d="M9.9,-2.8 A1.4,2.8 0 0 1 9.9,2.8" style="stroke:#a8a8a8;stroke-width:0.9"/><path class="th" d="M11.6,-2.8 A1.4,2.8 0 0 1 11.6,2.8" style="stroke:#a8a8a8;stroke-width:0.9"/></g>
<g transform="translate(281.0,130.0) rotate(29.1)"><path d="M-0.5,-7.1 L-4.5,-5.8 L-6,-2.5 L-6,2.5 L-4.5,5.8 L-0.5,7.1 Z" style="fill:#c8c8c8;stroke:#3a3a3a;stroke-width:1.2;stroke-linejoin:round"/><ellipse cx="0.3" cy="0" rx="3.4" ry="7.2" style="fill:#fff;stroke:#333;stroke-width:1.15"/><path class="pt" d="M3,-3.1 L19.4,-3.1 A1.5,3.1 0 0 1 19.4,3.1 L3,3.1" style="stroke-width:1.15"/><path class="th" d="M4.5,-2.8 A1.4,2.8 0 0 1 4.5,2.8" style="stroke:#a8a8a8;stroke-width:0.9"/><path class="th" d="M7.3,-2.8 A1.4,2.8 0 0 1 7.3,2.8" style="stroke:#a8a8a8;stroke-width:0.9"/><path class="th" d="M10.1,-2.8 A1.4,2.8 0 0 1 10.1,2.8" style="stroke:#a8a8a8;stroke-width:0.9"/><path class="th" d="M13.0,-2.8 A1.4,2.8 0 0 1 13.0,2.8" style="stroke:#a8a8a8;stroke-width:0.9"/><path class="th" d="M15.8,-2.8 A1.4,2.8 0 0 1 15.8,2.8" style="stroke:#a8a8a8;stroke-width:0.9"/></g>
<g transform="translate(93.5,307.5) rotate(26.6)"><path d="M-0.5,-7.1 L-4.5,-5.8 L-6,-2.5 L-6,2.5 L-4.5,5.8 L-0.5,7.1 Z" style="fill:#c8c8c8;stroke:#3a3a3a;stroke-width:1.2;stroke-linejoin:round"/><ellipse cx="0.3" cy="0" rx="3.4" ry="7.2" style="fill:#fff;stroke:#333;stroke-width:1.15"/><path class="pt" d="M3,-3.1 L14.5,-3.1 A1.5,3.1 0 0 1 14.5,3.1 L3,3.1" style="stroke-width:1.15"/><path class="th" d="M4.5,-2.8 A1.4,2.8 0 0 1 4.5,2.8" style="stroke:#a8a8a8;stroke-width:0.9"/><path class="th" d="M6.3,-2.8 A1.4,2.8 0 0 1 6.3,2.8" style="stroke:#a8a8a8;stroke-width:0.9"/><path class="th" d="M8.2,-2.8 A1.4,2.8 0 0 1 8.2,2.8" style="stroke:#a8a8a8;stroke-width:0.9"/><path class="th" d="M10.0,-2.8 A1.4,2.8 0 0 1 10.0,2.8" style="stroke:#a8a8a8;stroke-width:0.9"/><path class="th" d="M11.8,-2.8 A1.4,2.8 0 0 1 11.8,2.8" style="stroke:#a8a8a8;stroke-width:0.9"/></g>
<g transform="translate(48.5,334.0) rotate(27.8)"><path d="M-0.5,-7.1 L-4.5,-5.8 L-6,-2.5 L-6,2.5 L-4.5,5.8 L-0.5,7.1 Z" style="fill:#c8c8c8;stroke:#3a3a3a;stroke-width:1.2;stroke-linejoin:round"/><ellipse cx="0.3" cy="0" rx="3.4" ry="7.2" style="fill:#fff;stroke:#333;stroke-width:1.15"/><path class="pt" d="M3,-3.1 L20.3,-3.1 A1.5,3.1 0 0 1 20.3,3.1 L3,3.1" style="stroke-width:1.15"/><path class="th" d="M4.5,-2.8 A1.4,2.8 0 0 1 4.5,2.8" style="stroke:#a8a8a8;stroke-width:0.9"/><path class="th" d="M7.5,-2.8 A1.4,2.8 0 0 1 7.5,2.8" style="stroke:#a8a8a8;stroke-width:0.9"/><path class="th" d="M10.5,-2.8 A1.4,2.8 0 0 1 10.5,2.8" style="stroke:#a8a8a8;stroke-width:0.9"/><path class="th" d="M13.5,-2.8 A1.4,2.8 0 0 1 13.5,2.8" style="stroke:#a8a8a8;stroke-width:0.9"/><path class="th" d="M16.5,-2.8 A1.4,2.8 0 0 1 16.5,2.8" style="stroke:#a8a8a8;stroke-width:0.9"/></g>
<g transform="translate(835.0,90.5) rotate(27.1)"><path d="M-0.5,-7.1 L-4.5,-5.8 L-6,-2.5 L-6,2.5 L-4.5,5.8 L-0.5,7.1 Z" style="fill:#c8c8c8;stroke:#3a3a3a;stroke-width:1.2;stroke-linejoin:round"/><ellipse cx="0.3" cy="0" rx="3.4" ry="7.2" style="fill:#fff;stroke:#333;stroke-width:1.15"/><path class="pt" d="M3,-3.1 L20.7,-3.1 A1.5,3.1 0 0 1 20.7,3.1 L3,3.1" style="stroke-width:1.15"/><path class="th" d="M4.5,-2.8 A1.4,2.8 0 0 1 4.5,2.8" style="stroke:#a8a8a8;stroke-width:0.9"/><path class="th" d="M7.6,-2.8 A1.4,2.8 0 0 1 7.6,2.8" style="stroke:#a8a8a8;stroke-width:0.9"/><path class="th" d="M10.7,-2.8 A1.4,2.8 0 0 1 10.7,2.8" style="stroke:#a8a8a8;stroke-width:0.9"/><path class="th" d="M13.7,-2.8 A1.4,2.8 0 0 1 13.7,2.8" style="stroke:#a8a8a8;stroke-width:0.9"/><path class="th" d="M16.8,-2.8 A1.4,2.8 0 0 1 16.8,2.8" style="stroke:#a8a8a8;stroke-width:0.9"/></g>
<g transform="translate(757.5,214.5) rotate(29.6)"><path d="M-0.5,-7.1 L-4.5,-5.8 L-6,-2.5 L-6,2.5 L-4.5,5.8 L-0.5,7.1 Z" style="fill:#c8c8c8;stroke:#3a3a3a;stroke-width:1.2;stroke-linejoin:round"/><ellipse cx="0.3" cy="0" rx="3.4" ry="7.2" style="fill:#fff;stroke:#333;stroke-width:1.15"/><path class="pt" d="M3,-3.1 L20.1,-3.1 A1.5,3.1 0 0 1 20.1,3.1 L3,3.1" style="stroke-width:1.15"/><path class="th" d="M4.5,-2.8 A1.4,2.8 0 0 1 4.5,2.8" style="stroke:#a8a8a8;stroke-width:0.9"/><path class="th" d="M7.5,-2.8 A1.4,2.8 0 0 1 7.5,2.8" style="stroke:#a8a8a8;stroke-width:0.9"/><path class="th" d="M10.4,-2.8 A1.4,2.8 0 0 1 10.4,2.8" style="stroke:#a8a8a8;stroke-width:0.9"/><path class="th" d="M13.4,-2.8 A1.4,2.8 0 0 1 13.4,2.8" style="stroke:#a8a8a8;stroke-width:0.9"/><path class="th" d="M16.3,-2.8 A1.4,2.8 0 0 1 16.3,2.8" style="stroke:#a8a8a8;stroke-width:0.9"/></g>
<g transform="translate(402.5,196.5) rotate(30.0)"><path style="fill:#969696;stroke:none" d="M-6.0,-14.8 L0,-14.8 L0,14.8 L-6.0,14.8 Z" /><ellipse class="gr" style="fill:#969696" cx="-6.0" cy="0" rx="7.0" ry="14.8"/><path class="gr" style="fill:none" d="M-6.0,-14.8 L0,-14.8 M-6.0,14.8 L0,14.8"/><ellipse class="gr" style="fill:#858585;stroke-width:0.9" cx="-3.0" cy="0" rx="6.4" ry="13.3"/><ellipse class="gr" style="fill:#aaaaaa" cx="0" cy="0" rx="7.0" ry="14.8"/><ellipse class="gr" style="fill:#d4d4d4;stroke-width:0.8;stroke:#555" cx="0.5" cy="0" rx="2.8" ry="4.4"/></g>
<g transform="translate(903.0,125.0) rotate(28.0)"><path style="fill:#969696;stroke:none" d="M-5.5,-12.3 L0,-12.3 L0,12.3 L-5.5,12.3 Z" /><ellipse class="gr" style="fill:#969696" cx="-5.5" cy="0" rx="5.3" ry="12.3"/><path class="gr" style="fill:none" d="M-5.5,-12.3 L0,-12.3 M-5.5,12.3 L0,12.3"/><ellipse class="gr" style="fill:#858585;stroke-width:0.9" cx="-2.8" cy="0" rx="4.9" ry="11.1"/><ellipse class="gr" style="fill:#b9b9b9" cx="0" cy="0" rx="5.3" ry="12.3"/><ellipse class="gr" style="fill:#d4d4d4;stroke-width:0.8;stroke:#555" cx="0.5" cy="0" rx="2.1" ry="3.7"/></g>
<g transform="translate(824.5,250.0) rotate(30.0)"><path style="fill:#969696;stroke:none" d="M-5.5,-12.3 L0,-12.3 L0,12.3 L-5.5,12.3 Z" /><ellipse class="gr" style="fill:#969696" cx="-5.5" cy="0" rx="5.3" ry="12.3"/><path class="gr" style="fill:none" d="M-5.5,-12.3 L0,-12.3 M-5.5,12.3 L0,12.3"/><ellipse class="gr" style="fill:#858585;stroke-width:0.9" cx="-2.8" cy="0" rx="4.9" ry="11.1"/><ellipse class="gr" style="fill:#b9b9b9" cx="0" cy="0" rx="5.3" ry="12.3"/><ellipse class="gr" style="fill:#d4d4d4;stroke-width:0.8;stroke:#555" cx="0.5" cy="0" rx="2.1" ry="3.7"/></g>
<g transform="translate(433.5,215.0) rotate(30.0)"><path style="fill:#fff;stroke:none" d="M0,-5.6 L-8.5,-5.6 A2.6,5.6 0 0 0 -8.5,5.6 L0,5.6 Z"/><path class="ln" style="stroke:#333;stroke-width:1.1" d="M0,-5.6 L-8.5,-5.6 A2.6,5.6 0 0 0 -8.5,5.6 L0,5.6"/><ellipse class="pt" cx="0" cy="0" rx="6.5" ry="11.0" style="stroke-width:1.2"/><ellipse class="pt" cx="0.3" cy="0" rx="2" ry="3.3" style="stroke-width:1.3;stroke:#333"/></g>
<g transform="translate(872.6,110.4) rotate(28.0)"><ellipse class="pt" cx="0" cy="0" rx="6.0" ry="10.0" style="stroke-width:1.2"/><path style="fill:#fff;stroke:none" d="M0,-5.8 L9,-5.8 A2.7,5.8 0 0 1 9,5.8 L0,5.8 Z"/><path class="ln" style="stroke:#333;stroke-width:1.1" d="M1,-5.8 L9,-5.8 M1,5.8 L9,5.8"/><ellipse class="pt" cx="9" cy="0" rx="2.7" ry="5.8"/><ellipse class="th" cx="9" cy="0" rx="1.3" ry="2.8" style="stroke:#777"/></g>
<g transform="translate(793.5,233.4) rotate(30.0)"><ellipse class="pt" cx="0" cy="0" rx="6.0" ry="10.0" style="stroke-width:1.2"/><path style="fill:#fff;stroke:none" d="M0,-5.8 L9,-5.8 A2.7,5.8 0 0 1 9,5.8 L0,5.8 Z"/><path class="ln" style="stroke:#333;stroke-width:1.1" d="M1,-5.8 L9,-5.8 M1,5.8 L9,5.8"/><ellipse class="pt" cx="9" cy="0" rx="2.7" ry="5.8"/><ellipse class="th" cx="9" cy="0" rx="1.3" ry="2.8" style="stroke:#777"/></g>
<g transform="translate(1050.3,205.0) rotate(20.0)"><path d="M0,-8.0 C3.9,-8.0 5.6,-4.8 5.6,0 C5.6,4.8 3.9,8.0 0,8.0 C-3.9,8.0 -5.6,4.8 -5.6,0 C-5.6,-4.8 -3.9,-8.0 0,-8.0 Z" style="fill:#fafafa;stroke:#3a3a3a;stroke-width:1.3"/><path d="M-1.5,-6.8 C-3.2,-3 -3.2,3 -1.5,6.8" style="fill:none;stroke:#777;stroke-width:1"/><path d="M1.8,-6.4 C0.6,-3 0.6,3 1.8,6.4" style="fill:none;stroke:#555;stroke-width:1"/></g>
<g transform="translate(972.0,328.5) rotate(20.0)"><path d="M0,-8.0 C3.9,-8.0 5.6,-4.8 5.6,0 C5.6,4.8 3.9,8.0 0,8.0 C-3.9,8.0 -5.6,4.8 -5.6,0 C-5.6,-4.8 -3.9,-8.0 0,-8.0 Z" style="fill:#fafafa;stroke:#3a3a3a;stroke-width:1.3"/><path d="M-1.5,-6.8 C-3.2,-3 -3.2,3 -1.5,6.8" style="fill:none;stroke:#777;stroke-width:1"/><path d="M1.8,-6.4 C0.6,-3 0.6,3 1.8,6.4" style="fill:none;stroke:#555;stroke-width:1"/></g>
<g transform="translate(314,148.3) rotate(32)"><ellipse class="pt" cx="0" cy="0" rx="9" ry="13.4" style="stroke-width:1.3"/><ellipse class="pt" cx="0" cy="0" rx="2.3" ry="4.5" style="stroke-width:1.3"/></g>
<text x="281.09" y="54.18" text-anchor="middle" id="L15t">15</text>
<text x="240.82" y="150.00" text-anchor="middle" id="L16">16</text>
<text x="268.60" y="191.46" text-anchor="middle" id="L11">11</text>
<text x="406.36" y="140.36" text-anchor="middle" id="L8">8</text>
<text x="450.28" y="137.10" text-anchor="middle" id="L7">7</text>
<text x="440.73" y="161.10" text-anchor="middle" id="L9">9</text>
<text x="475.55" y="181.18" text-anchor="middle" id="L10">10</text>
<text x="23.10" y="283.36" text-anchor="middle" id="L15l">15</text>
<text x="23.23" y="417.28" text-anchor="middle" id="L12">12</text>
<text x="62.92" y="432.00" text-anchor="middle" id="L13">13</text>
<text x="151.73" y="566.54" text-anchor="middle" id="L1">1</text>
<text x="380.19" y="367.10" text-anchor="middle" id="L6u">6</text>
<text x="465.64" y="505.64" text-anchor="middle" id="L6l">6</text>
<text x="471.92" y="432.00" text-anchor="middle" id="L14">14</text>
<text x="864.14" y="63.36" text-anchor="middle" id="L17u">17</text>
<text x="900.01" y="79.18" text-anchor="middle" id="L5u">5</text>
<text x="930.00" y="97.46" text-anchor="middle" id="L4u">4</text>
<text x="1077.19" y="240.54" text-anchor="middle" id="L18u">18</text>
<text x="785.46" y="185.54" text-anchor="middle" id="L17l">17</text>
<text x="821.92" y="201.36" text-anchor="middle" id="L5l">5</text>
<text x="851.28" y="220.54" text-anchor="middle" id="L4l">4</text>
<text x="1020.28" y="288.72" text-anchor="middle" id="L3">3</text>
<text x="999.18" y="362.64" text-anchor="middle" id="L18l">18</text>
<text x="772.32" y="600.46" text-anchor="middle" id="L2">2</text>
</svg></body></html>
